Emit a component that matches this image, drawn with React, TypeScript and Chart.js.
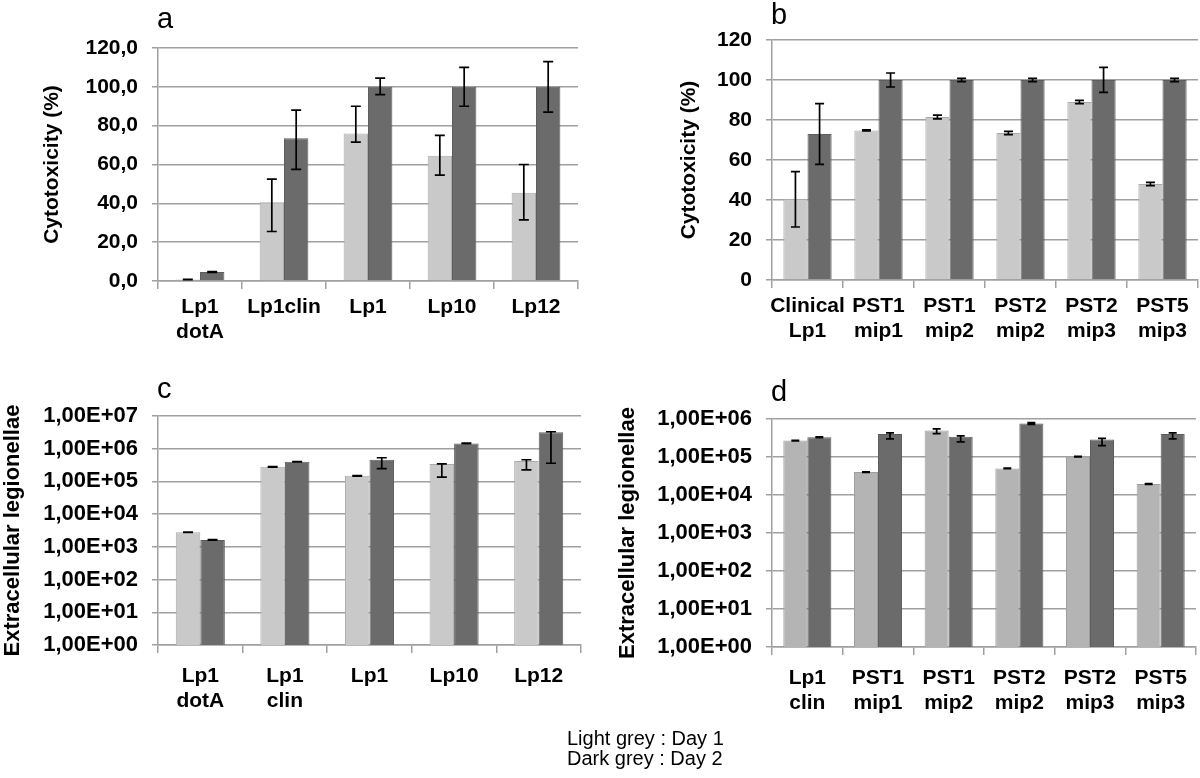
import React, { useEffect, useRef } from "react";
import { Chart, registerables } from "chart.js";

Chart.register(...registerables);

// ---------- Panel a ----------
const aCategories = [["Lp1", "dotA"], "Lp1clin", "Lp1", "Lp10", "Lp12"];
const aTickLabels = ["0,0", "20,0", "40,0", "60,0", "80,0", "100,0", "120,0"];
const aDay1 = [0.8, 40.5, 76, 64.5, 45.5];
const aDay1Low = [0.7, 25.5, 71.5, 54.5, 31.5];
const aDay1High = [0.9, 52.5, 90, 75, 60];
const aDay2 = [4.6, 73.5, 100, 100, 100];
const aDay2Low = [4.4, 57.5, 96, 90, 87];
const aDay2High = [4.8, 88, 104.5, 110, 113];

// ---------- Panel b ----------
const bCategories = [["Clinical", "Lp1"], ["PST1", "mip1"], ["PST1", "mip2"], ["PST2", "mip2"], ["PST2", "mip3"], ["PST5", "mip3"]];
const bTickLabels = ["0", "20", "40", "60", "80", "100", "120"];
const bDay1 = [40.5, 74.8, 81.5, 73.5, 89, 48];
const bDay1Low = [26.5, 74.5, 80.6, 72.7, 88.2, 47.2];
const bDay1High = [54.2, 75.1, 82.4, 74.3, 89.8, 48.8];
const bDay2 = [73, 100, 100, 100, 100, 100];
const bDay2Low = [57.8, 96.5, 99.2, 99.2, 93.8, 99.2];
const bDay2High = [88.2, 103.5, 100.8, 100.8, 106.3, 100.8];

// ---------- Panel c ----------
const cCategories = [["Lp1", "dotA"], ["Lp1", "clin"], "Lp1", "Lp10", "Lp12"];
const cTickValues = [1, 10, 100, 1000, 10000, 100000, 1000000, 10000000];
const cTickLabels = ["1,00E+00", "1,00E+01", "1,00E+02", "1,00E+03", "1,00E+04", "1,00E+05", "1,00E+06", "1,00E+07"];
const cDay1 = [2800, 280000, 148000, 340000, 420000];
const cDay1Low = [2750, 275000, 145000, 135000, 225000];
const cDay1High = [2850, 285000, 151000, 345000, 460000];
const cDay2 = [1630, 400000, 460000, 1450000, 3200000];
const cDay2Low = [1600, 393000, 245000, 1420000, 360000];
const cDay2High = [1660, 407000, 530000, 1480000, 3300000];

// ---------- Panel d ----------
const dCategories = [["Lp1", "clin"], ["PST1", "mip1"], ["PST1", "mip2"], ["PST2", "mip2"], ["PST2", "mip3"], ["PST5", "mip3"]];
const dTickValues = [1, 10, 100, 1000, 10000, 100000, 1000000];
const dTickLabels = ["1,00E+00", "1,00E+01", "1,00E+02", "1,00E+03", "1,00E+04", "1,00E+05", "1,00E+06"];
const dDay1 = [270000, 40000, 500000, 50000, 102000, 19500];
const dDay1Low = [265000, 39300, 410000, 49000, 100000, 19100];
const dDay1High = [275000, 40700, 550000, 51000, 104000, 19900];
const dDay2 = [330000, 400000, 340000, 760000, 290000, 400000];
const dDay2Low = [323000, 300000, 250000, 720000, 200000, 300000];
const dDay2High = [337000, 430000, 360000, 800000, 310000, 430000];

const legendLines = ["Light grey : Day 1", "Dark grey : Day 2"];

const FONT = "'Liberation Sans', Arial, Helvetica, sans-serif";
const GRID = "#a0a0a0";

const errorBarPlugin = {
  id: "errorBars",
  afterDatasetsDraw(chart: any, _args: any, opts: any) {
    const ctx = chart.ctx;
    const y = chart.scales.y;
    const cap = (opts && opts.cap) || 10;
    chart.data.datasets.forEach((ds: any, di: number) => {
      const meta = chart.getDatasetMeta(di);
      meta.data.forEach((bar: any, i: number) => {
        const x = bar.x;
        const yl = y.getPixelForValue(ds.errLow[i]);
        const yh = y.getPixelForValue(ds.errHigh[i]);
        ctx.save();
        ctx.strokeStyle = "#000";
        ctx.lineWidth = 1.7;
        ctx.beginPath();
        ctx.moveTo(x, yl);
        ctx.lineTo(x, yh);
        ctx.moveTo(x - cap / 2, yl);
        ctx.lineTo(x + cap / 2, yl);
        ctx.moveTo(x - cap / 2, yh);
        ctx.lineTo(x + cap / 2, yh);
        ctx.stroke();
        ctx.restore();
      });
    });
  },
};

type PanelProps = {
  left: number;
  top: number;
  width: number;
  height: number;
  labels: any[];
  day1: number[];
  day1Low: number[];
  day1High: number[];
  day2: number[];
  day2Low: number[];
  day2High: number[];
  log: boolean;
  tickValues?: number[];
  tickLabels: string[];
  yMax: number;
  yWidth: number;
  xHeight: number;
  padTop: number;
  padRight: number;
  yTitle: string;
  yTitleSize: number;
  yTitlePad: number;
  tickSize: number;
  xPad: number;
  catPct: number;
  lightColor: string;
  lightBorder: string;
  cap: number;
};

function Panel(p: PanelProps) {
  const ref = useRef<HTMLCanvasElement | null>(null);
  useEffect(() => {
    if (!ref.current) return;
    const yScale: any = p.log
      ? {
          type: "logarithmic",
          min: 1,
          max: p.yMax,
          afterBuildTicks: (s: any) => {
            s.ticks = (p.tickValues || []).map((v) => ({ value: v }));
          },
        }
      : { type: "linear", min: 0, max: p.yMax };
    const chart = new Chart(ref.current, {
      type: "bar",
      data: {
        labels: p.labels,
        datasets: [
          {
            label: "Day 1",
            data: p.day1,
            backgroundColor: p.lightColor,
            borderColor: p.lightBorder,
            borderWidth: 1,
            errLow: p.day1Low,
            errHigh: p.day1High,
          } as any,
          {
            label: "Day 2",
            data: p.day2,
            backgroundColor: "#6b6b6b",
            borderColor: "#5e5e5e",
            borderWidth: 1,
            errLow: p.day2Low,
            errHigh: p.day2High,
          } as any,
        ],
      },
      options: {
        responsive: false,
        animation: false,
        devicePixelRatio: 1,
        layout: { padding: { top: p.padTop, right: p.padRight, left: 0, bottom: 0 } },
        datasets: { bar: { categoryPercentage: p.catPct, barPercentage: 1 } },
        plugins: {
          legend: { display: false },
          tooltip: { enabled: false },
          errorBars: { cap: p.cap },
        } as any,
        scales: {
          x: {
            offset: true,
            grid: {
              offset: true,
              drawOnChartArea: false,
              drawTicks: true,
              tickLength: 8,
              color: GRID,
              lineWidth: 1.5,
            },
            border: { display: true, color: GRID, width: 1.5 },
            ticks: {
              color: "#000",
              padding: p.xPad,
              maxRotation: 0,
              autoSkip: false,
              font: { family: FONT, size: 21, weight: "bold", lineHeight: 1.22 },
            },
            afterFit: (s: any) => {
              s.height = p.xHeight;
            },
          },
          y: {
            ...yScale,
            grid: { color: GRID, lineWidth: 1.5, drawTicks: true, tickLength: 6 },
            border: { display: true, color: GRID, width: 1.5 },
            ticks: {
              color: "#000",
              padding: 14,
              stepSize: 20,
              autoSkip: false,
              font: { family: FONT, size: p.tickSize, weight: "bold" },
              callback: (_v: any, i: number) => p.tickLabels[i],
            },
            title: {
              display: true,
              text: p.yTitle,
              color: "#000",
              font: { family: FONT, size: p.yTitleSize, weight: "bold" },
              padding: { top: p.yTitlePad, bottom: 0 },
            },
            afterFit: (s: any) => {
              s.width = p.yWidth;
            },
          },
        },
      },
      plugins: [errorBarPlugin],
    } as any);
    return () => chart.destroy();
  }, []);
  return (
    <canvas
      ref={ref}
      width={p.width}
      height={p.height}
      style={{ position: "absolute", left: p.left, top: p.top, width: p.width, height: p.height }}
    />
  );
}

const letterStyle = (left: number, top: number): React.CSSProperties => ({
  position: "absolute",
  left,
  top,
  fontFamily: FONT,
  fontSize: 29,
  lineHeight: "32px",
  color: "#000",
});

export default function App() {
  return (
    <div style={{ position: "absolute", left: 0, top: 0, width: 1200, height: 778, background: "#fff", overflow: "hidden" }}>
      <Panel
        left={0} top={0} width={600} height={350}
        labels={aCategories} day1={aDay1} day1Low={aDay1Low} day1High={aDay1High}
        day2={aDay2} day2Low={aDay2Low} day2High={aDay2High}
        log={false} tickLabels={aTickLabels} yMax={120}
        yWidth={158} xHeight={69} padTop={48} padRight={22}
        yTitle="Cytotoxicity (%)" yTitleSize={21} yTitlePad={40} tickSize={21}
        xPad={5} catPct={0.58} lightColor="#c9c9c9" lightBorder="#ababab" cap={10}
      />
      <Panel
        left={600} top={0} width={600} height={350}
        labels={bCategories} day1={bDay1} day1Low={bDay1Low} day1High={bDay1High}
        day2={bDay2} day2Low={bDay2Low} day2High={bDay2High}
        log={false} tickLabels={bTickLabels} yMax={120}
        yWidth={172} xHeight={70} padTop={40} padRight={2}
        yTitle="Cytotoxicity (%)" yTitleSize={21} yTitlePad={77} tickSize={21}
        xPad={5} catPct={0.68} lightColor="#c9c9c9" lightBorder="#ababab" cap={9}
      />
      <Panel
        left={0} top={360} width={600} height={418}
        labels={cCategories} day1={cDay1} day1Low={cDay1Low} day1High={cDay1High}
        day2={cDay2} day2Low={cDay2Low} day2High={cDay2High}
        log={true} tickValues={cTickValues} tickLabels={cTickLabels} yMax={10000000}
        yWidth={158} xHeight={133} padTop={56} padRight={19}
        yTitle="Extracellular legionellae" yTitleSize={22} yTitlePad={0} tickSize={22}
        xPad={10} catPct={0.58} lightColor="#c9c9c9" lightBorder="#ababab" cap={10}
      />
      <Panel
        left={600} top={360} width={600} height={418}
        labels={dCategories} day1={dDay1} day1Low={dDay1Low} day1High={dDay1High}
        day2={dDay2} day2Low={dDay2Low} day2High={dDay2High}
        log={true} tickValues={dTickValues} tickLabels={dTickLabels} yMax={1000000}
        yWidth={172} xHeight={131} padTop={59} padRight={4}
        yTitle="Extracellular legionellae" yTitleSize={22} yTitlePad={15} tickSize={22}
        xPad={10} catPct={0.68} lightColor="#b4b4b4" lightBorder="#9e9e9e" cap={8}
      />
      <div style={letterStyle(157, 2)}>a</div>
      <div style={letterStyle(771, -2)}>b</div>
      <div style={letterStyle(157, 372)}>c</div>
      <div style={letterStyle(771, 375)}>d</div>
      <div
        style={{
          position: "absolute",
          left: 567,
          top: 728,
          fontFamily: FONT,
          fontSize: 20,
          lineHeight: "20px",
          color: "#000",
        }}
      >
        {legendLines.map((t) => (
          <div key={t}>{t}</div>
        ))}
      </div>
    </div>
  );
}
